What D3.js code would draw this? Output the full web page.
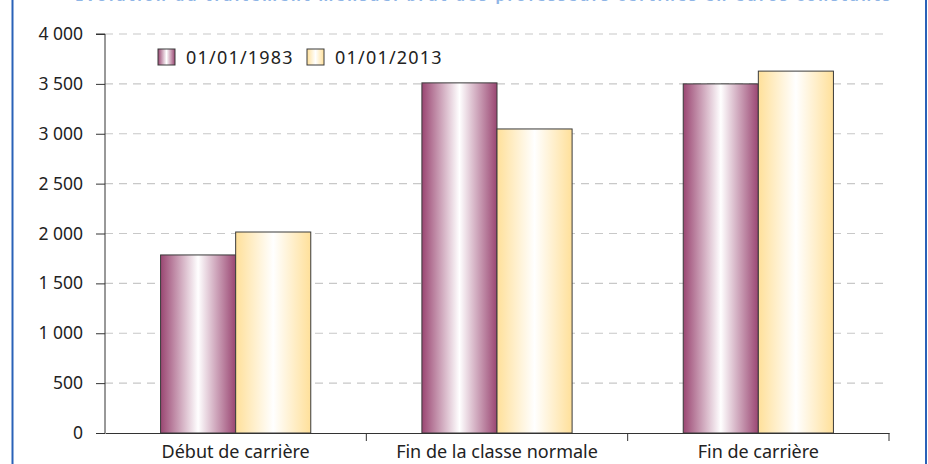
<!DOCTYPE html>
<html>
<head>
<meta charset="utf-8">
<script src="https://cdn.jsdelivr.net/npm/d3@7"></script>
<style>
  body { margin: 0; background: #fff; }
  svg { display: block; font-family: "Noto Sans", "Open Sans", sans-serif; }
</style>
</head>
<body>
<svg id="chart" width="928" height="464"></svg>
<script>
// data
const categories = ["Début de carrière", "Fin de la classe normale", "Fin de carrière"];
const seriesNames = ["01/01/1983", "01/01/2013"];
const values1983 = [1785, 3510, 3500];
const values2013 = [2015, 3048, 3628];
const yTicks = [0, 500, 1000, 1500, 2000, 2500, 3000, 3500, 4000];
const titleText = "Évolution du traitement mensuel brut des professeurs certifiés en euros constants";

const width = 928, height = 464;
const margin = {left: 105, right: 39, top: 34, bottom: 31};
const svg = d3.select("#chart");

// gradients for the bars
const defs = svg.append("defs");
const gradColors = [
  ["#9a4672", "#ffffff"],
  ["#ffe09a", "#ffffff"]
];
gradColors.forEach((c, i) => {
  const g = defs.append("linearGradient").attr("id", "grad" + i)
    .attr("x1", "0%").attr("x2", "100%").attr("y1", "0%").attr("y2", "0%");
  g.append("stop").attr("offset", "0%").attr("stop-color", c[0]);
  g.append("stop").attr("offset", "50%").attr("stop-color", c[1]);
  g.append("stop").attr("offset", "100%").attr("stop-color", c[0]);
});

// blue frame (clipped top and bottom)
svg.append("line").attr("x1", 12.5).attr("x2", 12.5).attr("y1", 0).attr("y2", height)
  .attr("stroke", "#2a62b8").attr("stroke-width", 2);
svg.append("line").attr("x1", 926).attr("x2", 926).attr("y1", 0).attr("y2", height)
  .attr("stroke", "#2a62b8").attr("stroke-width", 2);

// title, mostly cut off at the top like in the source
svg.append("text")
  .attr("x", 75).attr("y", 0.8)
  .attr("textLength", 815).attr("lengthAdjust", "spacing")
  .attr("fill", "#8fb5e6")
  .attr("font-size", 15).attr("font-weight", "bold")
  .text(titleText);

// scales
const x0 = d3.scaleBand()
  .domain(categories)
  .range([margin.left, width - margin.right]);

const x1 = d3.scaleBand()
  .domain(seriesNames)
  .range([0, x0.bandwidth()])
  .paddingOuter(0.74);

const y = d3.scaleLinear()
  .domain([0, 4000])
  .range([height - margin.bottom, margin.top]);

// gridlines
svg.append("g")
  .selectAll("line")
  .data(yTicks.filter(d => d > 0))
  .enter()
  .append("line")
  .attr("x1", margin.left).attr("x2", width - margin.right)
  .attr("y1", d => y(d)).attr("y2", d => y(d))
  .attr("stroke", "#c8c8c8")
  .attr("stroke-width", 1.2)
  .attr("stroke-dasharray", "8,6");

// bars
const data = categories.map((c, i) => ({cat: c, vals: [values1983[i], values2013[i]]}));
const groups = svg.append("g").selectAll("g")
  .data(data)
  .enter()
  .append("g")
  .attr("transform", d => `translate(${x0(d.cat)},0)`);

groups.selectAll("rect")
  .data(d => d.vals.map((v, i) => ({name: seriesNames[i], v: v, i: i})))
  .enter()
  .append("rect")
  .attr("x", d => x1(d.name))
  .attr("y", d => y(d.v))
  .attr("width", x1.bandwidth())
  .attr("height", d => y(0) - y(d.v))
  .attr("fill", d => `url(#grad${d.i})`)
  .attr("stroke", "#3a3a3a")
  .attr("stroke-width", 1);

// y axis
const yAxis = svg.append("g")
  .attr("transform", `translate(${margin.left},0)`)
  .call(d3.axisLeft(y)
    .tickValues(yTicks)
    .tickSize(9)
    .tickPadding(13)
    .tickFormat(d => d3.format(",")(d).replace(",", " ")));
yAxis.select(".domain").attr("stroke", "#333").attr("d", `M-9,${y(4000)}H0V${y(0)}`);
yAxis.selectAll(".tick line").attr("stroke", "#333");
yAxis.selectAll("text").attr("font-size", 17.5).attr("fill", "#222")
  .attr("font-family", "Noto Sans, sans-serif");

// x axis
const xAxis = svg.append("g")
  .attr("transform", `translate(0,${y(0)})`)
  .call(d3.axisBottom(x0).tickSize(0).tickPadding(12));
xAxis.select(".domain").attr("stroke", "#333");
xAxis.selectAll("text").attr("font-size", 18).attr("fill", "#222")
  .attr("font-family", "Noto Sans, sans-serif");
// separators between categories
svg.append("g").selectAll("line")
  .data(categories.slice(1).concat(["end"]))
  .enter()
  .append("line")
  .attr("x1", d => d === "end" ? width - margin.right : x0(d))
  .attr("x2", d => d === "end" ? width - margin.right : x0(d))
  .attr("y1", y(0)).attr("y2", y(0) + 8)
  .attr("stroke", "#333");

// legend
const legend = svg.append("g").attr("transform", "translate(158,49)");
const legendX = [0, 149];
seriesNames.forEach((name, i) => {
  legend.append("rect")
    .attr("x", legendX[i]).attr("y", 0)
    .attr("width", 17).attr("height", 16)
    .attr("fill", `url(#grad${i})`)
    .attr("stroke", "#3a3a3a");
  legend.append("text")
    .attr("x", legendX[i] + 28).attr("y", 15)
    .attr("font-size", 18).attr("letter-spacing", 1.2).attr("fill", "#222")
    .text(name);
});
</script>
</body>
</html>
